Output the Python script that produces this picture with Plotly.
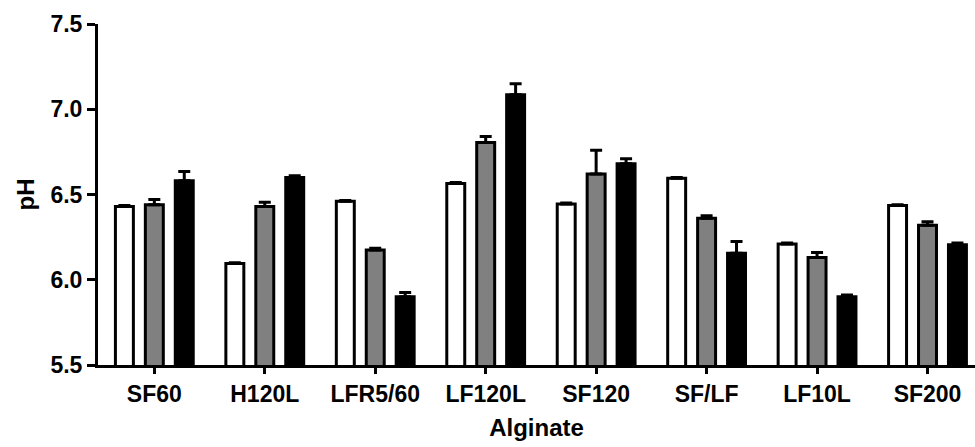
import plotly.graph_objects as go

categories = ["SF60", "H120L", "LFR5/60", "LF120L", "SF120", "SF/LF", "LF10L", "SF200"]
white_vals = [6.43, 6.095, 6.46, 6.565, 6.445, 6.595, 6.21, 6.435]
white_err = [0.005, 0.005, 0.005, 0.005, 0.005, 0.005, 0.005, 0.005]
gray_vals = [6.44, 6.43, 6.175, 6.805, 6.62, 6.36, 6.13, 6.32]
gray_err = [0.03, 0.025, 0.01, 0.035, 0.14, 0.015, 0.03, 0.02]
black_vals = [6.58, 6.60, 5.90, 7.085, 6.68, 6.155, 5.90, 6.205]
black_err = [0.055, 0.01, 0.025, 0.065, 0.03, 0.07, 0.01, 0.01]
y_ticks = [5.5, 6.0, 6.5, 7.0, 7.5]

series = [
    (white_vals, white_err, "white"),
    (gray_vals, gray_err, "#808080"),
    (black_vals, black_err, "black"),
]

fig = go.Figure()
for vals, errs, col in series:
    fig.add_trace(go.Bar(
        x=categories, y=vals,
        marker=dict(color=col, line=dict(color="black", width=3)),
        error_y=dict(type="data", symmetric=False, array=errs,
                     arrayminus=[0] * len(errs), color="black",
                     thickness=3, width=6),
        showlegend=False,
    ))

font_family = "Liberation Sans, Arial, sans-serif"
fig.update_layout(
    barmode="group",
    bargap=0.187,
    bargroupgap=0.4,
    width=975, height=447,
    margin=dict(l=98, r=0, t=24, b=82),
    plot_bgcolor="white", paper_bgcolor="white",
    font=dict(family=font_family, color="black"),
    xaxis=dict(
        range=[-0.51, 7.43],
        showline=True, linecolor="black", linewidth=3,
        ticks="outside", ticklen=6, tickwidth=3, tickcolor="black",
        showgrid=False, zeroline=False,
        tickfont=dict(size=23, weight="bold", family=font_family),
        title=dict(text="Alginate", font=dict(size=24, weight="bold", family=font_family), standoff=14),
    ),
    yaxis=dict(
        range=[5.5, 7.5],
        tickvals=y_ticks, ticktext=[f"{v:.1f}" for v in y_ticks],
        showline=True, linecolor="black", linewidth=3,
        ticks="outside", ticklen=8, tickwidth=3, tickcolor="black",
        showgrid=False, zeroline=False,
        tickfont=dict(size=23, weight="bold", family=font_family),
        title=dict(text="pH", font=dict(size=24, weight="bold", family=font_family), standoff=10),
    ),
)

fig.write_html("out.html")
